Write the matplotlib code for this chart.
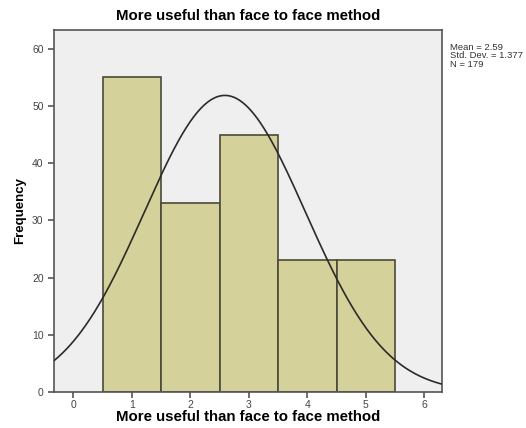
import numpy as np
import matplotlib.pyplot as plt

plt.rcParams["font.family"] = ["Liberation Sans", "DejaVu Sans"]

# histogram data (SPSS style)
categories = [1, 2, 3, 4, 5]
counts = [55, 33, 45, 23, 23]
mean_val = 2.59
std_val = 1.377
n_total = 179

fig = plt.figure(figsize=(5.26, 4.28), dpi=100)
ax = fig.add_axes([54 / 526, 1 - 392 / 428, (442 - 54) / 526, (392 - 30) / 428])
ax.set_facecolor("#efeff0")

ax.bar(categories, counts, width=1.0, color="#d4d19a", edgecolor="#4a4a38", linewidth=1.2, zorder=2)

xs = np.linspace(-0.33, 6.3, 400)
ys = n_total * 1.0 / (std_val * np.sqrt(2 * np.pi)) * np.exp(-0.5 * ((xs - mean_val) / std_val) ** 2)
ax.plot(xs, ys, color="#2b2b2b", linewidth=1.2, zorder=3)

ax.set_xlim(-0.33, 6.3)
ax.set_ylim(0, 63.3)
ax.set_xticks(range(0, 7))
ax.set_yticks(range(0, 61, 10))
for s in ax.spines.values():
    s.set_color("#555555")
    s.set_linewidth(1.2)
ax.tick_params(axis="both", colors="#555555", labelsize=7.5, labelcolor="#444444", length=4, width=1.2)
ax.tick_params(axis="x", pad=2)

ax.set_title("More useful than face to face method", fontsize=10.8, fontweight="bold", pad=7)
ax.set_xlabel("More useful than face to face method", fontsize=10.8, fontweight="bold", labelpad=0)
ax.set_ylabel("Frequency", fontsize=9.5, fontweight="bold", labelpad=4)

fig.text(450 / 526, 1 - 43 / 428,
         f"Mean = {mean_val}\nStd. Dev. = {std_val}\nN = {n_total}",
         fontsize=6.8, color="#333333", va="top", ha="left", linespacing=0.9)

fig.savefig("out.png", dpi=100)
